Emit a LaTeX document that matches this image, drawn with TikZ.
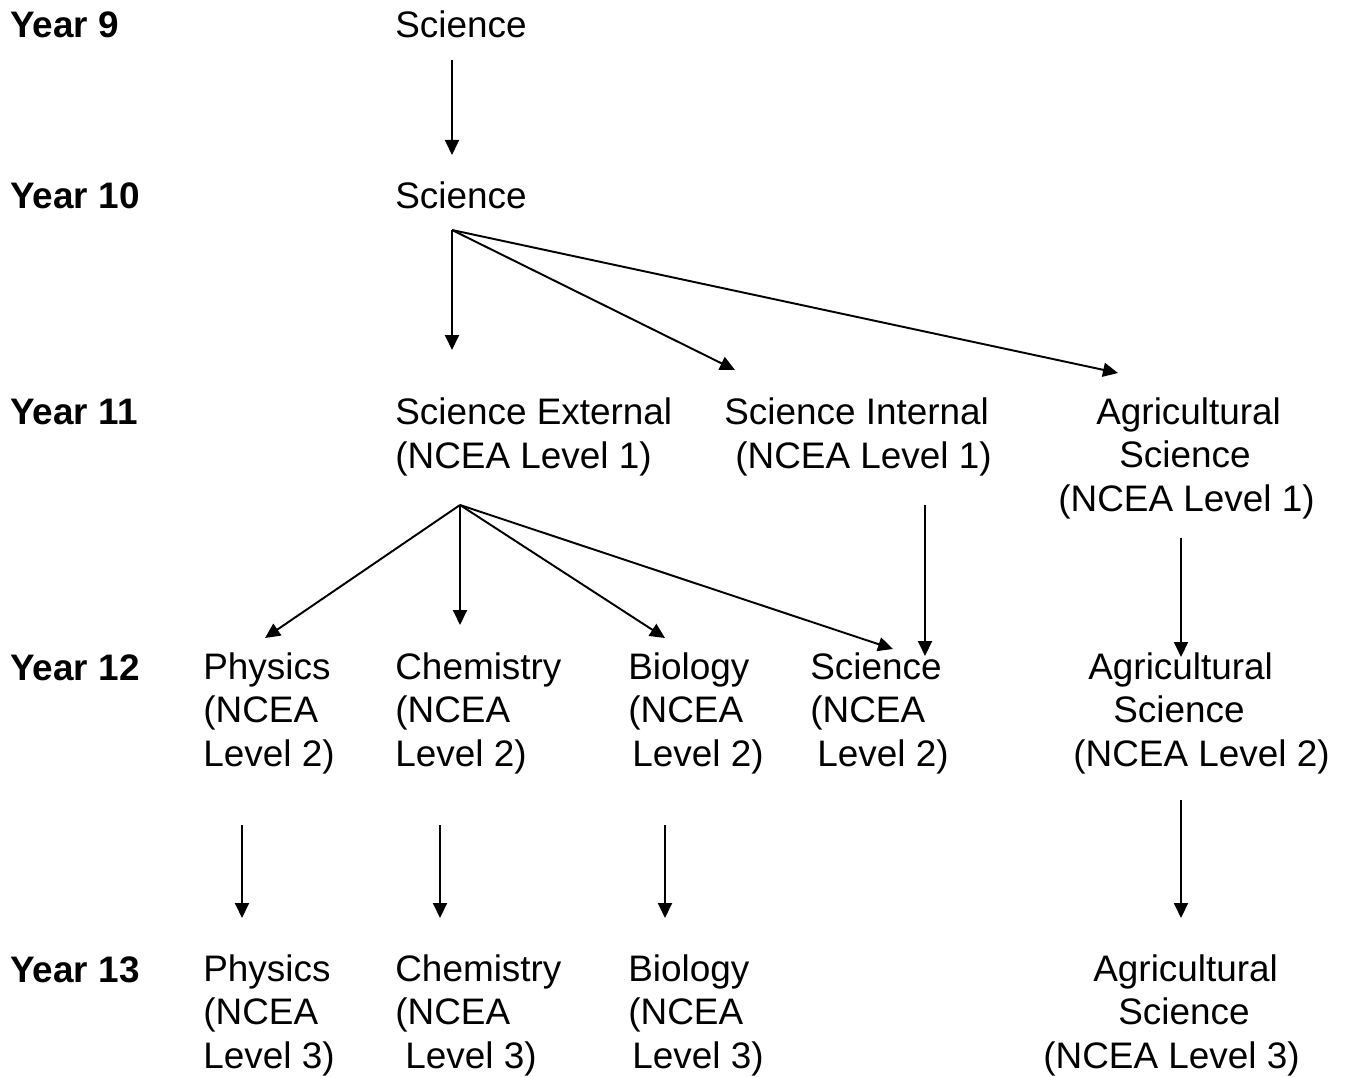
\documentclass[tikz,border=0pt]{standalone}
\usepackage{fontspec}
\setmainfont{Liberation Sans}
\usetikzlibrary{arrows.meta}
\newlength\pxlen \setlength\pxlen{0.02cm}
\newcommand\ind[1]{\hspace*{#1\pxlen}}
\tikzset{
year/.style={anchor=base west, inner sep=0pt, font=\bfseries\fontsize{21}{24.5}\selectfont},
subj/.style={anchor=base west, inner sep=0pt, align=left, font=\fontsize{21}{24.5}\selectfont},
flow/.style={-{Triangle[length=0.3cm,width=0.28cm]}, line width=1.1pt}
}
\begin{document}
\begin{tikzpicture}[x=0.02cm, y=-0.02cm]
\useasboundingbox (0,0) rectangle (1348,1077);
% year labels
\node[year] (y9) at (10,38) {Year 9};
\node[year] (y10) at (10,209) {Year 10};
\node[year] (y11) at (10,425) {Year 11};
\node[year] (y12) at (10,680) {Year 12};
\node[year] (y13) at (10,982) {Year 13};
% subjects (base = last line)
\node[subj] (sci9) at (395,38) {Science};
\node[subj] (sci10) at (395,209) {Science};
\node[subj] (sciext) at (395,468) {Science External\\(NCEA Level 1)};
\node[subj] (sciint) at (724,468) {Science Internal\\\ind{11}(NCEA Level 1)};
\node[subj] (agri11) at (1058,511) {\ind{38}Agricultural\\\ind{61}Science\\(NCEA Level 1)};
\node[subj] (phys12) at (203,766) {Physics\\(NCEA\\Level 2)};
\node[subj] (chem12) at (395,766) {Chemistry\\(NCEA\\Level 2)};
\node[subj] (bio12) at (628,766) {Biology\\(NCEA\\\ind{4}Level 2)};
\node[subj] (sci12) at (810,766) {Science\\(NCEA\\\ind{7}Level 2)};
\node[subj] (agri12) at (1073,766) {\ind{15}Agricultural\\\ind{40}Science\\(NCEA Level 2)};
\node[subj] (phys13) at (203,1068) {Physics\\(NCEA\\Level 3)};
\node[subj] (chem13) at (395,1068) {Chemistry\\(NCEA\\\ind{10}Level 3)};
\node[subj] (bio13) at (628,1068) {Biology\\(NCEA\\\ind{4}Level 3)};
\node[subj] (agri13) at (1043,1068) {\ind{50}Agricultural\\\ind{75}Science\\(NCEA Level 3)};
% arrow ends
\coordinate (sci9out) at (452,60);
\coordinate (sci10in) at (452,155);
\coordinate (sci10out) at (452,230);
\coordinate (sciextin) at (452,350);
\coordinate (sciintin) at (735,370);
\coordinate (agri11in) at (1118,373);
\coordinate (sciextout) at (460,505);
\coordinate (phys12in) at (265,638);
\coordinate (chem12in) at (460,625);
\coordinate (bio12in) at (665,638);
\coordinate (sci12in) at (893,649);
\coordinate (sciintout) at (925,505);
\coordinate (sci12in2) at (925,656);
\coordinate (agri11out) at (1181,538);
\coordinate (agri12in) at (1181,657);
\coordinate (phys12out) at (242,825);
\coordinate (phys13in) at (242,918);
\coordinate (chem12out) at (440,825);
\coordinate (chem13in) at (440,918);
\coordinate (bio12out) at (665,825);
\coordinate (bio13in) at (665,918);
\coordinate (agri12out) at (1181,800);
\coordinate (agri13in) at (1181,918);
% arrows
\draw[flow] (sci9out) -- (sci10in);
\foreach \t in {sciextin,sciintin,agri11in}
  \draw[flow] (sci10out) -- (\t);
\foreach \t in {phys12in,chem12in,bio12in,sci12in}
  \draw[flow] (sciextout) -- (\t);
\draw[flow] (sciintout) -- (sci12in2);
\draw[flow] (agri11out) -- (agri12in);
\draw[flow] (phys12out) -- (phys13in);
\draw[flow] (chem12out) -- (chem13in);
\draw[flow] (bio12out) -- (bio13in);
\draw[flow] (agri12out) -- (agri13in);
\end{tikzpicture}
\end{document}
